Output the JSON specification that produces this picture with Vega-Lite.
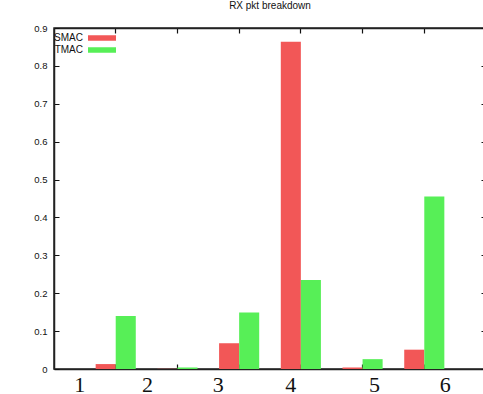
{
  "$schema": "https://vega.github.io/schema/vega-lite/v6.json",
  "width": 432,
  "height": 341,
  "autosize": "none",
  "padding": {"left": 54, "top": 28, "right": 0, "bottom": 25},
  "background": "white",
  "title": {"text": "RX pkt breakdown", "fontSize": 10, "font": "Liberation Sans", "fontWeight": "normal", "offset": 12, "color": "#111"},
  "config": {"view": {"stroke": "#222", "strokeWidth": 1.5}, "font": "Liberation Sans"},
  "data": {"values": [
    {"group": 1, "series": "SMAC", "value": 0.013},
    {"group": 1, "series": "TMAC", "value": 0.14},
    {"group": 2, "series": "SMAC", "value": 0.0005},
    {"group": 2, "series": "TMAC", "value": 0.004},
    {"group": 3, "series": "SMAC", "value": 0.068},
    {"group": 3, "series": "TMAC", "value": 0.149},
    {"group": 4, "series": "SMAC", "value": 0.864},
    {"group": 4, "series": "TMAC", "value": 0.235},
    {"group": 5, "series": "SMAC", "value": 0.004},
    {"group": 5, "series": "TMAC", "value": 0.026},
    {"group": 6, "series": "SMAC", "value": 0.051},
    {"group": 6, "series": "TMAC", "value": 0.455}
  ]},
  "layer": [
    {
      "mark": {"type": "bar"},
      "encoding": {
        "x": {"field": "group", "type": "ordinal",
          "scale": {"paddingInner": 0.35, "paddingOuter": 0.675},
          "axis": {"orient": "bottom", "title": null, "domain": true, "domainColor": "#222", "domainWidth": 1.5, "tickSize": -5, "tickColor": "#111", "tickWidth": 1.2,
            "labelFont": "Liberation Serif", "labelFontSize": 22, "labelColor": "#111", "labelAngle": 0, "labelPadding": 10,
            "labelOffset": {"expr": "datum.label == '1' ? -36 : datum.label == '2' ? -30 : datum.label == '3' ? -21 : datum.label == '4' ? -10 : datum.label == '5' ? 12 : 21"}}},
        "xOffset": {"field": "series", "scale": {"paddingInner": 0, "paddingOuter": 0}},
        "y": {"field": "value", "type": "quantitative",
          "scale": {"domain": [0, 0.9], "nice": false},
          "axis": {"orient": "left", "title": null, "domain": true, "domainColor": "#222", "domainWidth": 1.5, "grid": false, "values": [0, 0.1, 0.2, 0.3, 0.4, 0.5, 0.6, 0.7, 0.8, 0.9],
            "format": ".1~f", "tickSize": -5, "tickColor": "#111", "labelFontSize": 9.5, "labelColor": "#111", "labelPadding": 12}},
        "color": {"field": "series", "type": "nominal",
          "scale": {"domain": ["SMAC", "TMAC"], "range": ["#f25757", "#57ef57"]},
          "legend": {"title": null, "orient": "none", "legendX": 43, "legendY": 5, "padding": 0,
            "symbolType": "M-2.8,-0.55H2.8V0.55H-2.8Z", "symbolSize": 100, "symbolStrokeWidth": 0,
            "labelAlign": "right", "labelOffset": -24, "labelFontSize": 10, "labelColor": "#111", "rowPadding": 2}}
      }
    },
    {
      "mark": {"type": "bar", "opacity": 0},
      "encoding": {
        "x": {"field": "group", "type": "ordinal",
          "axis": {"orient": "top", "title": null, "domain": true, "domainColor": "#222", "domainWidth": 1.5, "labels": false, "tickSize": -5, "tickColor": "#111", "tickWidth": 1.2}},
        "xOffset": {"field": "series"},
        "y": {"field": "value", "type": "quantitative",
          "axis": {"orient": "right", "title": null, "domain": true, "domainColor": "#222", "domainWidth": 1.5, "grid": false, "labels": false, "values": [0, 0.1, 0.2, 0.3, 0.4, 0.5, 0.6, 0.7, 0.8, 0.9], "tickSize": -5, "tickColor": "#111"}}
      }
    }
  ],
  "resolve": {"axis": {"x": "independent", "y": "independent"}}
}
